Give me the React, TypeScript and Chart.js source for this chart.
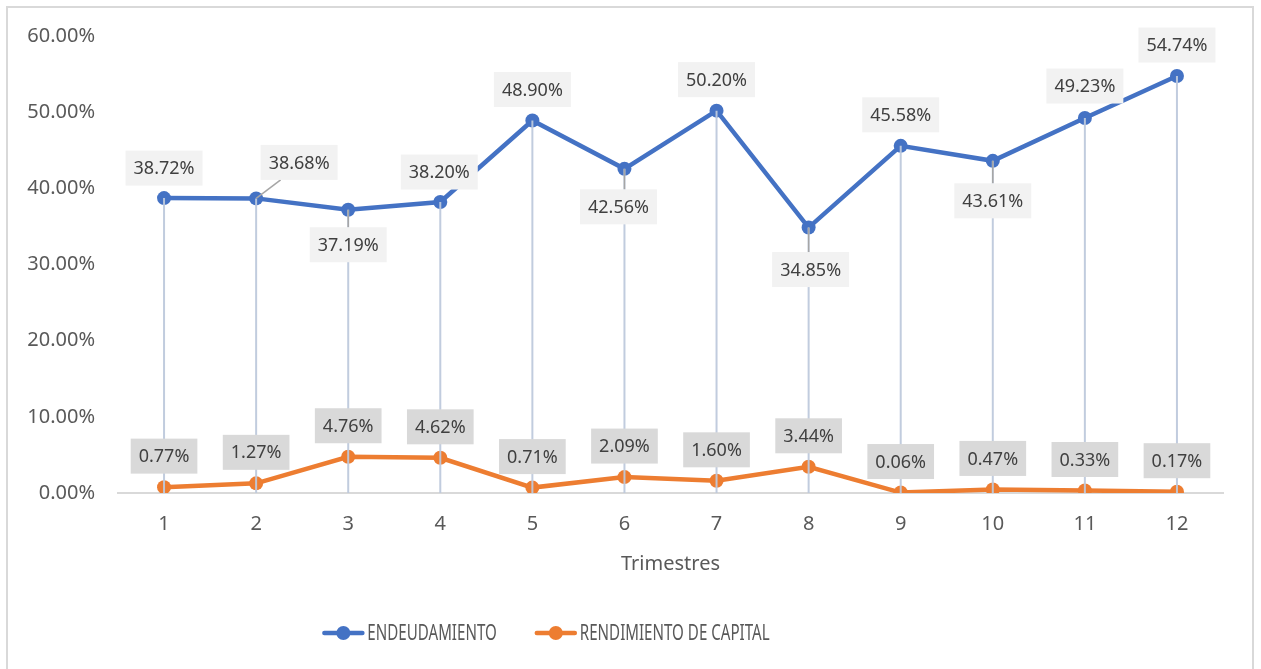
import React, { useEffect, useRef } from "react";
import { Chart, registerables } from "chart.js";

Chart.register(...registerables);

const categories = ["1", "2", "3", "4", "5", "6", "7", "8", "9", "10", "11", "12"];
const endeudamiento = [38.72, 38.68, 37.19, 38.2, 48.9, 42.56, 50.2, 34.85, 45.58, 43.61, 49.23, 54.74];
const rendimiento = [0.77, 1.27, 4.76, 4.62, 0.71, 2.09, 1.6, 3.44, 0.06, 0.47, 0.33, 0.17];
const seriesNames = ["ENDEUDAMIENTO", "RENDIMIENTO DE CAPITAL"];
const axisTitle = "Trimestres";
const yMin = 0;
const yMax = 60;
const yStep = 10;

// label placement relative to each point (style only)
const blueLabelOffsets: [number, number][] = [
  [0, -30], [43, -36], [0, 35], [-1, -30], [0, -31], [-6, 38],
  [0, -31], [2, 42], [0, -31], [0, 40], [0, -32], [0, -31],
];
const orangeLabelOffsets: [number, number][] = categories.map(() => [0, -31]);

const BLUE = "#4472c4";
const ORANGE = "#ed7d31";
const FONT = "'Noto Sans', 'Open Sans', sans-serif";

const dropLinesPlugin = {
  id: "dropLines",
  afterDatasetsDraw(chart: any) {
    const meta = chart.getDatasetMeta(0);
    const ctx = chart.ctx;
    const bottom = chart.chartArea.bottom;
    ctx.save();
    ctx.strokeStyle = "rgba(190,201,220,0.95)";
    ctx.lineWidth = 2;
    meta.data.forEach((pt: any) => {
      ctx.beginPath();
      ctx.moveTo(pt.x, pt.y);
      ctx.lineTo(pt.x, bottom);
      ctx.stroke();
    });
    ctx.restore();
  },
};

const labelsPlugin = {
  id: "boxLabels",
  afterDatasetsDraw(chart: any) {
    const ctx = chart.ctx;
    const configs = [
      { di: 0, offsets: blueLabelOffsets, bg: "#f2f2f2" },
      { di: 1, offsets: orangeLabelOffsets, bg: "#d9d9d9" },
    ];
    ctx.save();
    ctx.font = `18px ${FONT}`;
    configs.forEach(({ di, offsets, bg }) => {
      const meta = chart.getDatasetMeta(di);
      const values = chart.data.datasets[di].data as number[];
      meta.data.forEach((pt: any, i: number) => {
        const text = values[i].toFixed(2) + "%";
        const w = ctx.measureText(text).width + 16;
        const h = 35;
        const cx = pt.x + offsets[i][0];
        const cy = pt.y + offsets[i][1];
        const left = cx - w / 2;
        const top = cy - h / 2;
        const gap = Math.abs(offsets[i][1]) - h / 2;
        if (gap > 16) {
          const ey = offsets[i][1] > 0 ? top : top + h;
          const ex = Math.min(Math.max(pt.x, left + 20), left + w - 20);
          ctx.strokeStyle = "#a6a6a6";
          ctx.lineWidth = 1.5;
          ctx.beginPath();
          ctx.moveTo(pt.x, pt.y);
          ctx.lineTo(ex, ey);
          ctx.stroke();
        }
        ctx.fillStyle = bg;
        ctx.fillRect(left, top, w, h);
        ctx.fillStyle = "#404040";
        ctx.textAlign = "center";
        ctx.textBaseline = "middle";
        ctx.fillText(text, cx, cy + 1);
      });
    });
    ctx.restore();
  },
};

const legendPlugin = {
  id: "customLegend",
  afterDraw(chart: any) {
    const ctx = chart.ctx;
    ctx.save();
    ctx.font = `21px ${FONT}`;
    const squeeze = 0.72;
    const lineW = 42;
    const textGap = 3;
    const itemGap = 38;
    const items = chart.data.datasets.map((d: any) => ({
      label: d.label,
      color: d.borderColor,
      tw: ctx.measureText(d.label).width * squeeze,
    }));
    const total = items.reduce((s: number, it: any) => s + lineW + textGap + it.tw, 0) + itemGap * (items.length - 1);
    const centerX = chart.chartArea.left + 428;
    const y = chart.chartArea.bottom + 140;
    let x = centerX - total / 2;
    items.forEach((it: any) => {
      ctx.strokeStyle = it.color;
      ctx.lineWidth = 4.5;
      ctx.lineCap = "round";
      ctx.beginPath();
      ctx.moveTo(x + 2, y);
      ctx.lineTo(x + lineW - 2, y);
      ctx.stroke();
      ctx.fillStyle = it.color;
      ctx.beginPath();
      ctx.arc(x + lineW / 2, y, 7, 0, Math.PI * 2);
      ctx.fill();
      ctx.save();
      ctx.translate(x + lineW + textGap, y + 1);
      ctx.scale(squeeze, 1);
      ctx.fillStyle = "#595959";
      ctx.textAlign = "left";
      ctx.textBaseline = "middle";
      ctx.fillText(it.label, 0, 0);
      ctx.restore();
      x += lineW + textGap + it.tw + itemGap;
    });
    ctx.restore();
  },
};

export default function App() {
  const canvasRef = useRef<HTMLCanvasElement | null>(null);

  useEffect(() => {
    if (!canvasRef.current) return;
    const chart = new Chart(canvasRef.current, {
      type: "line",
      data: {
        labels: categories,
        datasets: [
          {
            label: seriesNames[0],
            data: endeudamiento,
            borderColor: BLUE,
            backgroundColor: BLUE,
            borderWidth: 4.5,
            pointRadius: 7,
            pointBorderWidth: 0,
            pointBackgroundColor: BLUE,
            tension: 0,
          },
          {
            label: seriesNames[1],
            data: rendimiento,
            borderColor: ORANGE,
            backgroundColor: ORANGE,
            borderWidth: 4.5,
            pointRadius: 7,
            pointBorderWidth: 0,
            pointBackgroundColor: ORANGE,
            tension: 0,
          },
        ],
      },
      options: {
        animation: false,
        responsive: false,
        maintainAspectRatio: false,
        layout: { padding: { left: 0, right: 29, top: 28, bottom: 77 } },
        plugins: {
          legend: { display: false },
          tooltip: { enabled: false },
        },
        scales: {
          x: {
            offset: true,
            grid: { display: false, drawTicks: false },
            border: { display: true, color: "#d9d9d9", width: 2 },
            ticks: { color: "#595959", font: { family: FONT, size: 20 }, padding: 19 },
            title: {
              display: true,
              text: axisTitle,
              color: "#595959",
              font: { family: FONT, size: 20 },
              padding: { top: 0, bottom: 16 },
            },
            afterFit: (s: any) => {
              s.height = 99;
            },
          },
          y: {
            min: yMin,
            max: yMax,
            grid: { display: false, drawTicks: false },
            border: { display: false },
            ticks: {
              stepSize: yStep,
              color: "#595959",
              font: { family: FONT, size: 20 },
              padding: 23,
              callback: (v: any) => Number(v).toFixed(2) + "%",
            },
            afterFit: (s: any) => {
              s.width = 110;
              s.paddingTop = 0;
              s.paddingBottom = 0;
            },
          },
        },
      },
      plugins: [dropLinesPlugin, labelsPlugin, legendPlugin],
    });
    return () => chart.destroy();
  }, []);

  return (
    <div
      style={{
        position: "absolute",
        left: 6,
        top: 6,
        width: 1248,
        height: 663,
        border: "2px solid #d9d9d9",
        borderBottom: "none",
        boxSizing: "border-box",
        background: "#fff",
      }}
    >
      <canvas ref={canvasRef} width={1244} height={661} style={{ display: "block" }} />
    </div>
  );
}
